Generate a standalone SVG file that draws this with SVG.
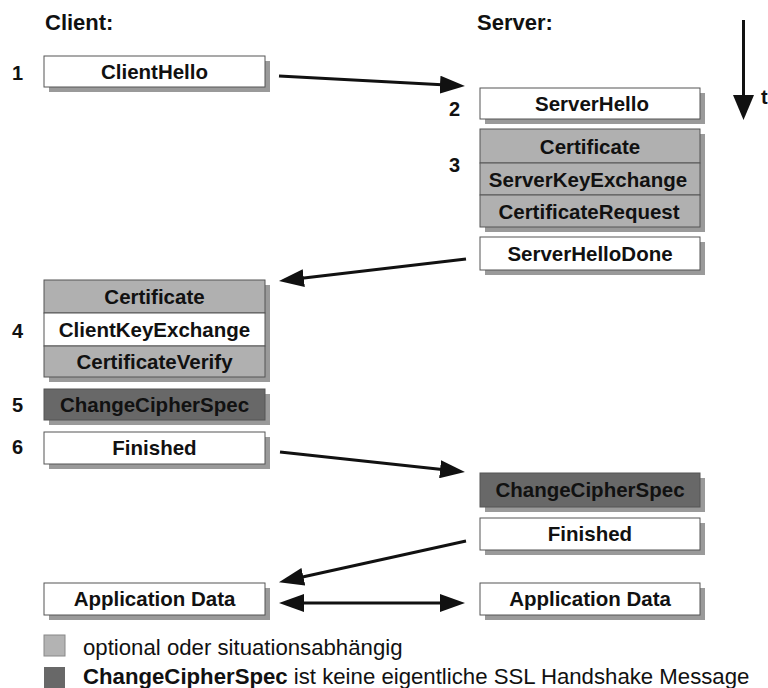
<svg xmlns="http://www.w3.org/2000/svg" width="768" height="688" viewBox="0 0 768 688">
  <style>
    text { font-family: "Liberation Sans", Arial, sans-serif; fill: #111; }
    .hdr { font-size: 22px; font-weight: bold; }
    .num { font-size: 20px; font-weight: bold; }
    .lbl { font-size: 20.5px; font-weight: bold; text-anchor: middle; }
    .leg { font-size: 22.2px; }
    .box { stroke: #555; stroke-width: 1; }
    .plain { fill: #ffffff; }
    .opt { fill: #b0b0b0; }
    .ccs { fill: #686868; }
    .shadow { fill: #9a9a9a; }
    .conn { stroke: #111; stroke-width: 3; fill: none; }
  </style>
  <defs>
    <marker id="head" viewBox="0 0 25 18" markerWidth="25" markerHeight="18" refX="2" refY="9" markerUnits="userSpaceOnUse" orient="auto-start-reverse">
      <path d="M0,0 L25,9 L0,18 z" fill="#111"/>
    </marker>
  </defs>

  <rect width="768" height="688" fill="#ffffff"/>

  <!-- column headers -->
  <text class="hdr" x="45" y="30">Client:</text>
  <text class="hdr" x="477" y="30">Server:</text>

  <!-- time axis -->
  <g id="time-axis">
    <line x1="743.5" y1="20" x2="743.5" y2="98" stroke="#111" stroke-width="3"/>
    <polygon points="733,95 754,95 743.5,120" fill="#111"/>
    <text class="num" x="761" y="104">t</text>
  </g>

  <!-- step numbers -->
  <text class="num" x="12" y="80">1</text>
  <text class="num" x="449" y="116">2</text>
  <text class="num" x="449" y="172">3</text>
  <text class="num" x="12" y="338">4</text>
  <text class="num" x="12" y="412">5</text>
  <text class="num" x="12" y="454">6</text>

  <!-- client messages -->
  <g id="client-hello">
    <rect class="shadow" x="49" y="61" width="221" height="31"/>
    <rect class="box plain" x="44" y="56" width="221" height="31"/>
    <text class="lbl" x="154.5" y="79">ClientHello</text>
  </g>

  <g id="client-certificate-group">
    <rect class="shadow" x="49" y="285" width="221" height="97"/>
    <rect class="box opt" x="44" y="280" width="221" height="33"/>
    <rect class="box plain" x="44" y="313" width="221" height="33"/>
    <rect class="box opt" x="44" y="346" width="221" height="31"/>
    <text class="lbl" x="154.5" y="304">Certificate</text>
    <text class="lbl" x="154.5" y="337">ClientKeyExchange</text>
    <text class="lbl" x="154.5" y="369">CertificateVerify</text>
  </g>

  <g id="client-change-cipher-spec">
    <rect class="shadow" x="49" y="394" width="221" height="31"/>
    <rect class="box ccs" x="44" y="389" width="221" height="31"/>
    <text class="lbl" x="154.5" y="412">ChangeCipherSpec</text>
  </g>

  <g id="client-finished">
    <rect class="shadow" x="49" y="437" width="221" height="32"/>
    <rect class="box plain" x="44" y="432" width="221" height="32"/>
    <text class="lbl" x="154.5" y="455">Finished</text>
  </g>

  <g id="client-application-data">
    <rect class="shadow" x="49" y="588" width="221" height="32"/>
    <rect class="box plain" x="44" y="583" width="221" height="32"/>
    <text class="lbl" x="154.5" y="606">Application Data</text>
  </g>

  <!-- server messages -->
  <g id="server-hello">
    <rect class="shadow" x="485" y="93" width="220" height="31"/>
    <rect class="box plain" x="480" y="88" width="220" height="31"/>
    <text class="lbl" x="592" y="111">ServerHello</text>
  </g>

  <g id="server-certificate-group">
    <rect class="shadow" x="485" y="134" width="220" height="98"/>
    <rect class="box opt" x="480" y="129" width="220" height="34"/>
    <rect class="box opt" x="480" y="163" width="220" height="32"/>
    <rect class="box opt" x="480" y="195" width="220" height="32"/>
    <text class="lbl" x="590" y="154">Certificate</text>
    <text class="lbl" x="588" y="187">ServerKeyExchange</text>
    <text class="lbl" x="589" y="219">CertificateRequest</text>
  </g>

  <g id="server-hello-done">
    <rect class="shadow" x="485" y="242" width="220" height="33"/>
    <rect class="box plain" x="480" y="237" width="220" height="33"/>
    <text class="lbl" x="590" y="261">ServerHelloDone</text>
  </g>

  <g id="server-change-cipher-spec">
    <rect class="shadow" x="485" y="478" width="220" height="34"/>
    <rect class="box ccs" x="480" y="473" width="220" height="34"/>
    <text class="lbl" x="590" y="497">ChangeCipherSpec</text>
  </g>

  <g id="server-finished">
    <rect class="shadow" x="485" y="523" width="220" height="32"/>
    <rect class="box plain" x="480" y="518" width="220" height="32"/>
    <text class="lbl" x="590" y="541">Finished</text>
  </g>

  <g id="server-application-data">
    <rect class="shadow" x="485" y="588" width="220" height="32"/>
    <rect class="box plain" x="480" y="583" width="220" height="32"/>
    <text class="lbl" x="590" y="606">Application Data</text>
  </g>

  <!-- message flow -->
  <g id="connectors">
    <line class="conn" x1="279" y1="76" x2="442" y2="84.8" marker-end="url(#head)"/>
    <line class="conn" x1="466" y1="259" x2="301.8" y2="278.3" marker-end="url(#head)"/>
    <line class="conn" x1="280" y1="452" x2="442.1" y2="469.5" marker-end="url(#head)"/>
    <line class="conn" x1="466" y1="541" x2="301.4" y2="577.2" marker-end="url(#head)"/>
    <line class="conn" x1="302" y1="603" x2="442" y2="603" marker-start="url(#head)" marker-end="url(#head)"/>
  </g>

  <!-- legend -->
  <g id="legend">
    <rect x="44" y="635" width="21" height="21" fill="#b3b3b3" stroke="#888" stroke-width="1"/>
    <text class="leg" x="83" y="655">optional oder situationsabhängig</text>
    <rect x="44" y="667" width="21" height="21" fill="#686868"/>
    <text class="leg" x="83" y="684"><tspan font-weight="bold">ChangeCipherSpec</tspan> ist keine eigentliche SSL Handshake Message</text>
  </g>
</svg>
